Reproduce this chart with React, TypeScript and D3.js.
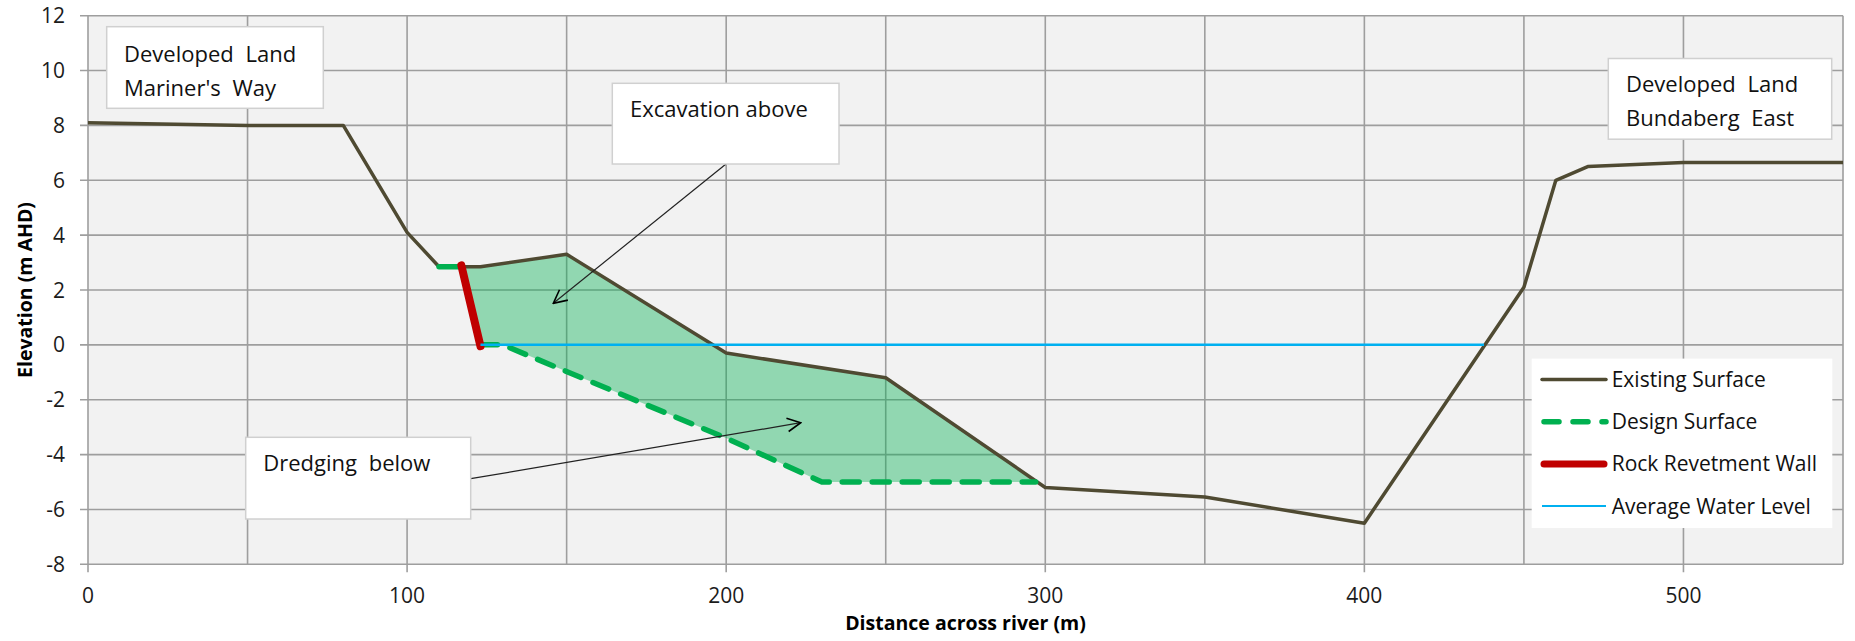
import * as d3 from "d3";

// cross section readings (distance m, elevation m AHD)
const existingX = [0, 50, 80, 100, 110, 117, 123, 150, 200, 250, 300, 350, 400, 450, 460, 470, 500, 550];
const existingY = [8.1, 8.0, 8.0, 4.1, 2.85, 2.85, 2.85, 3.3, -0.3, -1.2, -5.2, -5.55, -6.5, 2.1, 6.0, 6.5, 6.65, 6.65];

const designLeftX = [110, 117];
const designLeftY = [2.85, 2.85];
const designX = [123, 130, 200, 230, 297];
const designY = [0, 0, -3.4, -5, -5];

const wallX = [117, 123];
const wallY = [2.9, -0.05];

const waterX = [123, 437.5];
const waterY = [0, 0];

const xTicks = [0, 100, 200, 300, 400, 500];
const xGrid = [0, 50, 100, 150, 200, 250, 300, 350, 400, 450, 500, 550];
const yTicks = [-8, -6, -4, -2, 0, 2, 4, 6, 8, 10, 12];

const legendItems = ["Existing Surface", "Design Surface", "Rock Revetment Wall", "Average Water Level"];

const W = 1855;
const H = 641;
const FONT = "'Open Sans', sans-serif";

const x = d3.scaleLinear().domain([0, 550]).range([88, 1843]);
const y = d3.scaleLinear().domain([-8, 12]).range([564.3, 15.7]);

const pts = (xs: number[], ys: number[]) => xs.map((v, i) => [v, ys[i]] as [number, number]);
const line = d3
  .line<[number, number]>()
  .x((d) => x(d[0]))
  .y((d) => y(d[1]));

// excavation / dredging polygon: existing surface on top, design surface underneath
const fillPts: [number, number][] = [
  ...pts(existingX, existingY).filter((d) => d[0] >= 117 && d[0] < 297),
  ...pts(designX, designY).reverse(),
];

const App = () => {
  const left = x(0);
  const right = x(550);
  const top = y(12);
  const bottom = y(-8);

  return (
    <svg width={W} height={H} style={{ position: "absolute", left: 0, top: 0, background: "#fff" }}>
      <defs>
        <marker id="arr" viewBox="0 0 12 12" refX="11" refY="6" markerWidth="16" markerHeight="16" markerUnits="userSpaceOnUse" orient="auto">
          <path d="M1,1 L11,6 L1,11" fill="none" stroke="#000" strokeWidth={1.2} />
        </marker>
      </defs>
      <rect x={left} y={top} width={right - left} height={bottom - top} fill="#f2f2f2" />

      {/* grid */}
      {yTicks.map((t) => (
        <line key={"gy" + t} x1={left - 8} x2={right} y1={y(t)} y2={y(t)} stroke="#9e9e9e" strokeWidth={1.6} />
      ))}
      {xGrid.map((t) => (
        <line key={"gx" + t} x1={x(t)} x2={x(t)} y1={top} y2={t % 100 === 0 ? bottom + 8 : bottom} stroke="#9e9e9e" strokeWidth={1.6} />
      ))}

      {/* tick labels */}
      {yTicks.map((t) => (
        <text key={"ly" + t} x={65} y={y(t) + 7.5} textAnchor="end" fontFamily={FONT} fontSize={21} fill="#1b1b1b">
          {t}
        </text>
      ))}
      {xTicks.map((t) => (
        <text key={"lx" + t} x={x(t)} y={603} textAnchor="middle" fontFamily={FONT} fontSize={21} fill="#1b1b1b">
          {t}
        </text>
      ))}

      {/* axis titles */}
      <text x={(left + right) / 2} y={630} textAnchor="middle" fontFamily={FONT} fontSize={19.5} fontWeight="bold" fill="#000">
        Distance across river (m)
      </text>
      <text transform={`translate(32,${(top + bottom) / 2}) rotate(-90)`} textAnchor="middle" fontFamily={FONT} fontSize={19.5} fontWeight="bold" fill="#000">
        Elevation (m AHD)
      </text>

      {/* series */}
      <path d={line(fillPts) + "Z"} fill="#00b050" fillOpacity={0.4} stroke="none" />
      <path d={line(pts(existingX, existingY)) ?? ""} fill="none" stroke="#4f4a32" strokeWidth={3.5} strokeLinejoin="round" />
      <path d={line(pts(designLeftX, designLeftY)) ?? ""} fill="none" stroke="#00b050" strokeWidth={5.5} strokeLinecap="round" />
      <path d={line(pts(designX, designY)) ?? ""} fill="none" stroke="#00b050" strokeWidth={5.5} strokeDasharray="17 13" strokeLinecap="round" strokeLinejoin="round" />
      <path d={line(pts(wallX, wallY)) ?? ""} fill="none" stroke="#c00000" strokeWidth={8} strokeLinecap="round" />
      <path d={line(pts(waterX, waterY)) ?? ""} fill="none" stroke="#00b0f0" strokeWidth={2.5} />

      {/* callouts */}
      <g fontFamily={FONT} fontSize={22} fill="#111">
        <rect x={106.7} y={26.7} width={216.6} height={81.6} fill="#fff" stroke="#d0d0d0" strokeWidth={1.5} />
        <text x={124} y={62} wordSpacing={6}>Developed Land</text>
        <text x={124} y={96} wordSpacing={6}>Mariner's Way</text>

        <rect x={1608.3} y={58.5} width={223.4} height={80.7} fill="#fff" stroke="#d0d0d0" strokeWidth={1.5} />
        <text x={1626} y={92} wordSpacing={6}>Developed Land</text>
        <text x={1626} y={126} wordSpacing={6}>Bundaberg East</text>

        <line x1={726} y1={164} x2={553.3} y2={303.3} stroke="#222" strokeWidth={1.2} markerEnd="url(#arr)" />
        <rect x={612.3} y={83.3} width={226.7} height={80.7} fill="#fff" stroke="#d0d0d0" strokeWidth={1.5} />
        <text x={630} y={117}>Excavation above</text>

        <line x1={470.7} y1={478.7} x2={800.7} y2={422.7} stroke="#222" strokeWidth={1.2} markerEnd="url(#arr)" />
        <rect x={245.7} y={437.3} width={225} height={81.7} fill="#fff" stroke="#d0d0d0" strokeWidth={1.5} />
        <text x={263.3} y={471} wordSpacing={6}>Dredging below</text>
      </g>

      {/* legend */}
      <g fontFamily={FONT} fontSize={21} fill="#111">
        <rect x={1531.7} y={358.6} width={300.6} height={169.4} fill="#fff" />
        {legendItems.map((name, i) => {
          const ly = 379.5 + i * 42.2;
          const x1 = 1542;
          const x2 = 1606;
          return (
            <g key={name}>
              {i === 0 && <line x1={x1} x2={x2} y1={ly} y2={ly} stroke="#4f4a32" strokeWidth={3.5} strokeLinecap="round" />}
              {i === 1 && <line x1={x1 + 2} x2={x2} y1={ly} y2={ly} stroke="#00b050" strokeWidth={5.5} strokeDasharray="15 14" strokeLinecap="round" />}
              {i === 2 && <line x1={x1 + 2} x2={x2 - 2} y1={ly} y2={ly} stroke="#c00000" strokeWidth={7} strokeLinecap="round" />}
              {i === 3 && <line x1={x1} x2={x2} y1={ly} y2={ly} stroke="#00b0f0" strokeWidth={2} />}
              <text x={1611.7} y={ly + 7.5}>{name}</text>
            </g>
          );
        })}
      </g>
    </svg>
  );
};

export default App;
